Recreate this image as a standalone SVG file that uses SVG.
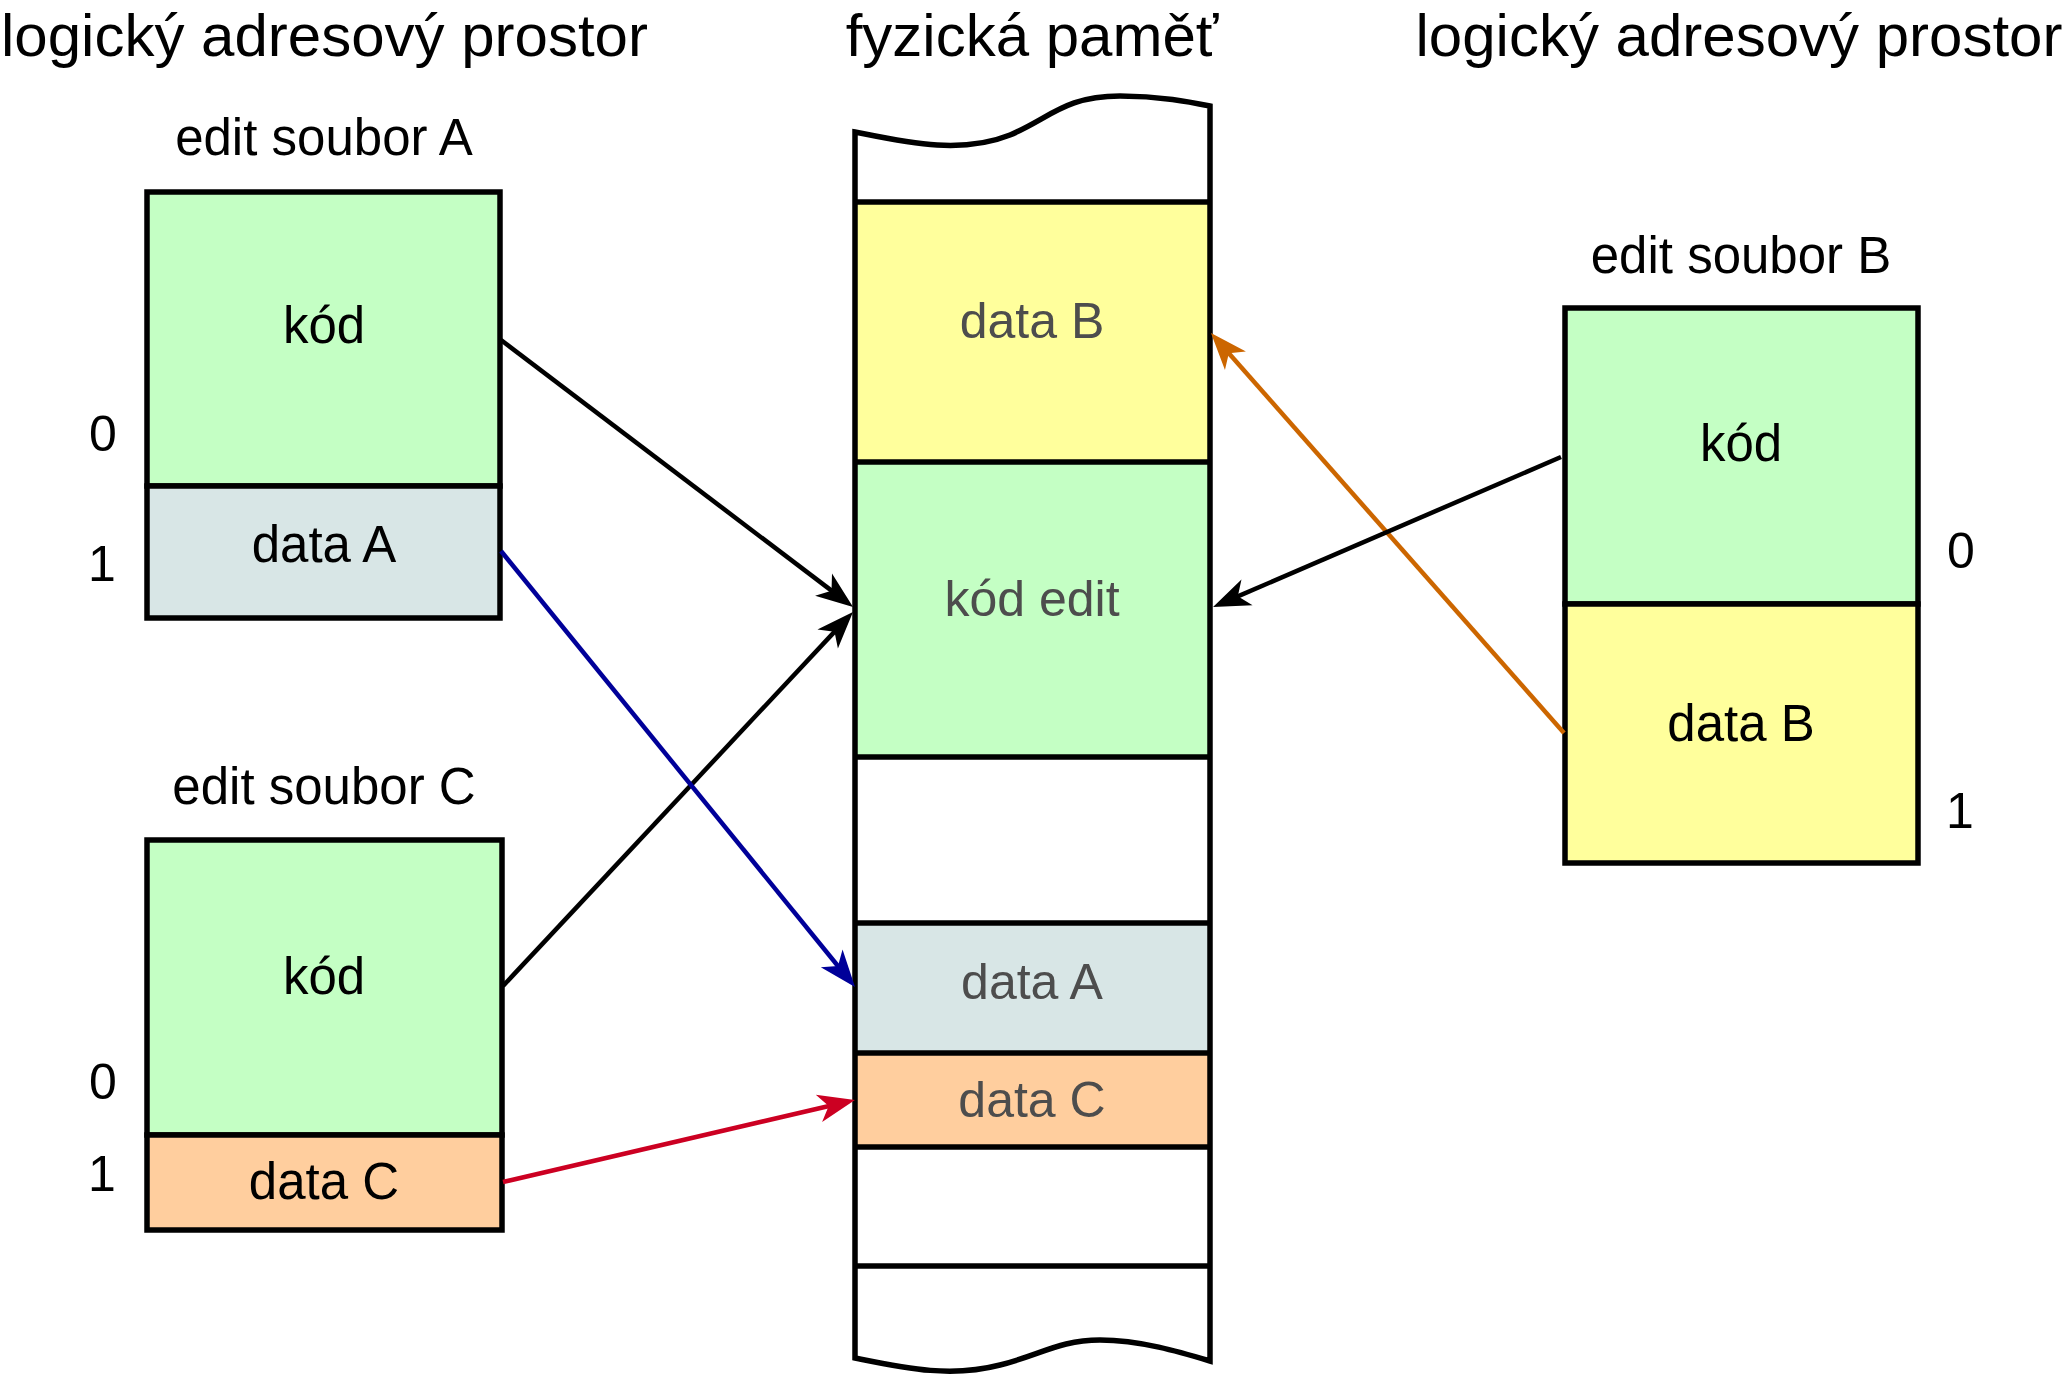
<svg xmlns="http://www.w3.org/2000/svg" width="2067" height="1379" viewBox="0 0 2067 1379">
<style>
text{font-family:"Liberation Sans",Arial,sans-serif;}
.title{font-size:60px;fill:#000;}
.lbl{font-size:51px;fill:#000;text-anchor:middle;}
.mem{font-size:50px;fill:#4d4d4d;text-anchor:middle;}
.num{font-size:50px;fill:#000;text-anchor:middle;}
.box{stroke:#000;stroke-width:5.5;stroke-linejoin:miter;}
.div{stroke:#000;stroke-width:5.5;}
.green{fill:#c4ffc4;}
.yellow{fill:#ffff9c;}
.grey{fill:#d8e6e6;}
.orange{fill:#ffce9e;}
.conn{fill:none;stroke-width:4.5;}
</style>
<defs>
<marker id="arrK" markerUnits="userSpaceOnUse" viewBox="-20 -16 42 32" refX="0" refY="0" markerWidth="42" markerHeight="32" orient="auto" overflow="visible"><path d="M20,0 L-17,-14 L-7,0 L-17,14 Z" fill="#000"/></marker>
<marker id="arrB" markerUnits="userSpaceOnUse" viewBox="-20 -16 42 32" refX="0" refY="0" markerWidth="42" markerHeight="32" orient="auto" overflow="visible"><path d="M20,0 L-17,-14 L-7,0 L-17,14 Z" fill="#000099"/></marker>
<marker id="arrR" markerUnits="userSpaceOnUse" viewBox="-20 -16 42 32" refX="0" refY="0" markerWidth="42" markerHeight="32" orient="auto" overflow="visible"><path d="M20,0 L-17,-14 L-7,0 L-17,14 Z" fill="#cc0022"/></marker>
<marker id="arrO" markerUnits="userSpaceOnUse" viewBox="-20 -16 42 32" refX="0" refY="0" markerWidth="42" markerHeight="32" orient="auto" overflow="visible"><path d="M20,0 L-17,-14 L-7,0 L-17,14 Z" fill="#cc6600"/></marker>
<path id="memOutline" d="M855,132 C905,142 960,155 1010,135 C1050,118 1065,96 1120,96 C1160,96 1190,102 1210,106 L1210,1361 C1180,1352 1140,1340 1100,1340 C1060,1340 1040,1355 1000,1365 C950,1378 905,1368 855,1358 Z"/>
</defs>
<rect width="2067" height="1379" fill="#fff"/>

<g id="titles">
<text class="title" x="1" y="56">logický adresový prostor</text>
<text class="title" x="1032" y="56" text-anchor="middle">fyzická paměť</text>
<text class="title" x="1739" y="56" text-anchor="middle">logický adresový prostor</text>
</g>

<g id="boxA">
<text class="lbl" x="324" y="155">edit soubor A</text>
<rect class="box green" x="147" y="192" width="353" height="294"/>
<rect class="box grey" x="147" y="486" width="353" height="132"/>
<text class="lbl" x="324" y="343">kód</text>
<text class="lbl" x="324" y="562">data A</text>
<text class="num" x="103" y="451">0</text>
<text class="num" x="102" y="581">1</text>
</g>

<g id="boxC">
<text class="lbl" x="324" y="804">edit soubor C</text>
<rect class="box green" x="147" y="840" width="355" height="295"/>
<rect class="box orange" x="147" y="1135" width="355" height="95"/>
<text class="lbl" x="324" y="994">kód</text>
<text class="lbl" x="324" y="1199">data C</text>
<text class="num" x="103" y="1099">0</text>
<text class="num" x="102" y="1191">1</text>
</g>

<g id="boxB">
<text class="lbl" x="1741" y="273">edit soubor B</text>
<rect class="box green" x="1565" y="308" width="353" height="296"/>
<rect class="box yellow" x="1565" y="604" width="353" height="259"/>
<text class="lbl" x="1741" y="461">kód</text>
<text class="lbl" x="1741" y="741">data B</text>
<text class="num" x="1961" y="568">0</text>
<text class="num" x="1960" y="828">1</text>
</g>

<g id="memory">
<use href="#memOutline" fill="#fff" stroke="none"/>
<rect class="yellow" x="855" y="202" width="355" height="260"/>
<rect class="green" x="855" y="462" width="355" height="295"/>
<rect class="grey" x="855" y="923" width="355" height="130"/>
<rect class="orange" x="855" y="1053" width="355" height="94"/>
<g class="div">
<line x1="855" y1="202" x2="1210" y2="202"/>
<line x1="855" y1="462" x2="1210" y2="462"/>
<line x1="855" y1="757" x2="1210" y2="757"/>
<line x1="855" y1="923" x2="1210" y2="923"/>
<line x1="855" y1="1053" x2="1210" y2="1053"/>
<line x1="855" y1="1147" x2="1210" y2="1147"/>
<line x1="855" y1="1266" x2="1210" y2="1266"/>
</g>
<use href="#memOutline" fill="none" stroke="#000" stroke-width="5.5"/>
<text class="mem" x="1032" y="338">data B</text>
<text class="mem" x="1032" y="616">kód edit</text>
<text class="mem" x="1032" y="999">data A</text>
<text class="mem" x="1032" y="1117">data C</text>
</g>

<g id="connectors">
<line class="conn" x1="501" y1="340" x2="837.1" y2="594.9" stroke="#000" marker-end="url(#arrK)"/>
<line class="conn" x1="503" y1="986" x2="839.3" y2="626.6" stroke="#000" marker-end="url(#arrK)"/>
<line class="conn" x1="501" y1="551" x2="842.4" y2="971.5" stroke="#000099" marker-end="url(#arrB)"/>
<line class="conn" x1="503" y1="1182" x2="835.5" y2="1104.5" stroke="#cc0022" marker-end="url(#arrR)"/>
<line class="conn" x1="1564" y1="733" x2="1224.2" y2="348" stroke="#cc6600" marker-end="url(#arrO)"/>
<line class="conn" x1="1561" y1="457" x2="1231.4" y2="599.1" stroke="#000" marker-end="url(#arrK)"/>
</g>
</svg>
